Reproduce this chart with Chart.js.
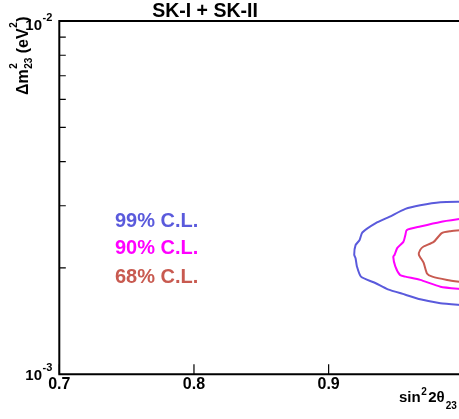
<!DOCTYPE html>
<html>
<head>
<meta charset="utf-8">
<script src="https://cdn.jsdelivr.net/npm/chart.js@4"></script>
<style>
  html, body { margin: 0; padding: 0; overflow: hidden; background: #fff; }
  #wrap { width: 470px; height: 419px; }
</style>
</head>
<body>
<div id="wrap"><canvas id="myChart"></canvas></div>
<script>
// contour labels and colours
const clLabels = ["99% C.L.", "90% C.L.", "68% C.L."];
const clColors = ["#5a5adc", "#ff00ff", "#c85a50"];

// 99% C.L. contour (sin^2 2theta, dm^2 in eV^2)
const sin99 = [1.0, 0.983, 0.968, 0.957, 0.945, 0.935, 0.925, 0.923, 0.920, 0.919, 0.920, 0.921, 0.924, 0.935, 0.944, 0.957, 0.968, 0.983, 1.0];
const dm99 = [3.08e-3, 3.07e-3, 3.01e-3, 2.94e-3, 2.79e-3, 2.68e-3, 2.52e-3, 2.40e-3, 2.32e-3, 2.18e-3, 2.13e-3, 2.02e-3, 1.89e-3, 1.81e-3, 1.74e-3, 1.68e-3, 1.63e-3, 1.59e-3, 1.57e-3];

// 90% C.L. contour
const sin90 = [1.0, 0.983, 0.968, 0.958, 0.957, 0.9555, 0.951, 0.949, 0.948, 0.9495, 0.953, 0.957, 0.968, 0.983, 1.0];
const dm90 = [2.76e-3, 2.70e-3, 2.62e-3, 2.56e-3, 2.48e-3, 2.37e-3, 2.28e-3, 2.18e-3, 2.15e-3, 2.02e-3, 1.91e-3, 1.89e-3, 1.85e-3, 1.77e-3, 1.74e-3];

// 68% C.L. contour
const sin68 = [1.0, 0.9905, 0.984, 0.978, 0.9705, 0.968, 0.967, 0.9705, 0.973, 0.977, 0.988, 1.0];
const dm68 = [2.56e-3, 2.54e-3, 2.51e-3, 2.37e-3, 2.30e-3, 2.25e-3, 2.18e-3, 2.07e-3, 1.93e-3, 1.89e-3, 1.85e-3, 1.82e-3];

// best fit point
const bestSin = [1.0];
const bestDm = [2.2e-3];

// axes
const xTicks = [0.7, 0.8, 0.9, 1.0];
const xTickLabels = ["0.7", "0.8", "0.9", "1"];
const yDecades = [1e-3, 1e-2];
const yDecadeExp = ["-3", "-2"];
const yMinor = [2e-3, 3e-3, 4e-3, 5e-3, 6e-3, 7e-3, 8e-3, 9e-3];

const FONT = "'Liberation Sans', Arial, Helvetica, sans-serif";

function toPoints(xs, ys) {
  return xs.map((x, i) => ({ x: x, y: ys[i] }));
}

const contourSets = [[sin99, dm99], [sin90, dm90], [sin68, dm68]].map((d, i) => ({
  label: clLabels[i],
  data: toPoints(d[0], d[1]),
  borderColor: clColors[i],
  borderWidth: 2,
  showLine: true,
  pointRadius: 0,
  fill: false,
  tension: 0.2
}));

const bestFitSet = {
  label: "best fit",
  data: toPoints(bestSin, bestDm),
  borderColor: "#ff0000",
  backgroundColor: "#ff0000",
  pointStyle: "star",
  pointRadius: 4,
  borderWidth: 1,
  showLine: false,
  clip: false
};

const axesPlugin = {
  id: "axesPlugin",
  afterDraw(chart) {
    const ctx = chart.ctx;
    const a = chart.chartArea;
    const xs = chart.scales.x;
    const ys = chart.scales.y;
    ctx.save();

    // frame
    ctx.strokeStyle = "#000";
    ctx.lineWidth = 2;
    ctx.beginPath();
    ctx.moveTo(a.left, a.top);
    ctx.lineTo(a.left, a.bottom);
    ctx.lineTo(a.right, a.bottom);
    ctx.lineTo(a.right, a.top);
    ctx.closePath();
    ctx.stroke();

    // x ticks (inward)
    ctx.lineWidth = 1.2;
    ctx.beginPath();
    xTicks.forEach(v => {
      const px = xs.getPixelForValue(v);
      ctx.moveTo(px, a.bottom);
      ctx.lineTo(px, a.bottom - 10);
    });
    // y minor ticks (inward)
    yMinor.forEach(v => {
      const py = ys.getPixelForValue(v);
      ctx.moveTo(a.left, py);
      ctx.lineTo(a.left + 6.5, py);
    });
    ctx.stroke();

    ctx.fillStyle = "#000";
    // x tick labels
    ctx.font = "bold 16px " + FONT;
    ctx.textAlign = "center";
    ctx.textBaseline = "alphabetic";
    xTicks.forEach((v, i) => {
      ctx.fillText(xTickLabels[i], xs.getPixelForValue(v), a.bottom + 15);
    });

    // y decade labels 10^n
    yDecades.forEach((v, i) => {
      const py = ys.getPixelForValue(v);
      const base = i === 0 ? py + 6 : py + 8.5;
      ctx.textAlign = "right";
      ctx.font = "bold 15px " + FONT;
      ctx.fillText("10", 42, base);
      ctx.textAlign = "left";
      ctx.font = "bold 11px " + FONT;
      ctx.fillText(yDecadeExp[i], 42.5, base - 9);
    });

    // x axis title: sin^2 2theta_23
    ctx.textAlign = "left";
    let x = 399;
    const xb = 402;
    ctx.font = "bold 15px " + FONT;
    ctx.fillText("sin", x, xb);
    x += ctx.measureText("sin").width + 0.5;
    ctx.font = "bold 10px " + FONT;
    ctx.fillText("2", x, xb - 7);
    x += ctx.measureText("2").width + 1.5;
    ctx.font = "bold 15px " + FONT;
    ctx.fillText("2\u03b8", x, xb);
    x += ctx.measureText("2\u03b8").width + 1;
    ctx.font = "bold 10px " + FONT;
    ctx.fillText("23", x, xb + 7);

    // y axis title: dm^2_23 (eV^2), rotated
    ctx.save();
    ctx.translate(28, 95);
    ctx.rotate(-Math.PI / 2);
    let u = 0;
    ctx.font = "bold 16px " + FONT;
    ctx.fillText("\u0394m", u, 0);
    u += ctx.measureText("\u0394m").width + 0.5;
    ctx.font = "bold 10px " + FONT;
    ctx.fillText("2", u, -11);
    ctx.fillText("23", u, 3.5);
    u += ctx.measureText("23").width;
    ctx.font = "bold 16px " + FONT;
    ctx.fillText(" (eV", u, 0);
    u += ctx.measureText(" (eV").width + 0.5;
    ctx.font = "bold 10px " + FONT;
    ctx.fillText("2", u, -11);
    u += ctx.measureText("2").width + 0.5;
    ctx.font = "bold 16px " + FONT;
    ctx.fillText(")", u, 0);
    ctx.restore();

    // title
    ctx.textAlign = "center";
    ctx.font = "bold 19.5px " + FONT;
    ctx.fillText("SK-I + SK-II", 205, 16.5);

    // C.L. labels
    ctx.textAlign = "left";
    ctx.font = "bold 20px " + FONT;
    const legendBase = [227.3, 254.3, 283];
    clLabels.forEach((t, i) => {
      ctx.fillStyle = clColors[i];
      ctx.fillText(t, 115, legendBase[i]);
    });

    ctx.restore();
  }
};

const ctx = document.getElementById("myChart").getContext("2d");
const myChart = new Chart(ctx, {
  type: "scatter",
  data: { datasets: [...contourSets, bestFitSet] },
  options: {
    responsive: true,
    maintainAspectRatio: false,
    animation: false,
    events: [],
    layout: { padding: { top: 21, right: 6.7, left: 0, bottom: 0 } },
    plugins: {
      legend: { display: false },
      tooltip: { enabled: false },
      title: { display: false }
    },
    scales: {
      x: {
        type: "linear",
        min: 0.7,
        max: 1.0,
        grid: { display: false },
        border: { display: false },
        ticks: { display: false },
        afterFit: s => { s.height = 44.7; }
      },
      y: {
        type: "logarithmic",
        min: 1e-3,
        max: 1e-2,
        grid: { display: false },
        border: { display: false },
        ticks: { display: false },
        afterFit: s => { s.width = 59.3; }
      }
    }
  },
  plugins: [axesPlugin]
});
</script>
</body>
</html>
